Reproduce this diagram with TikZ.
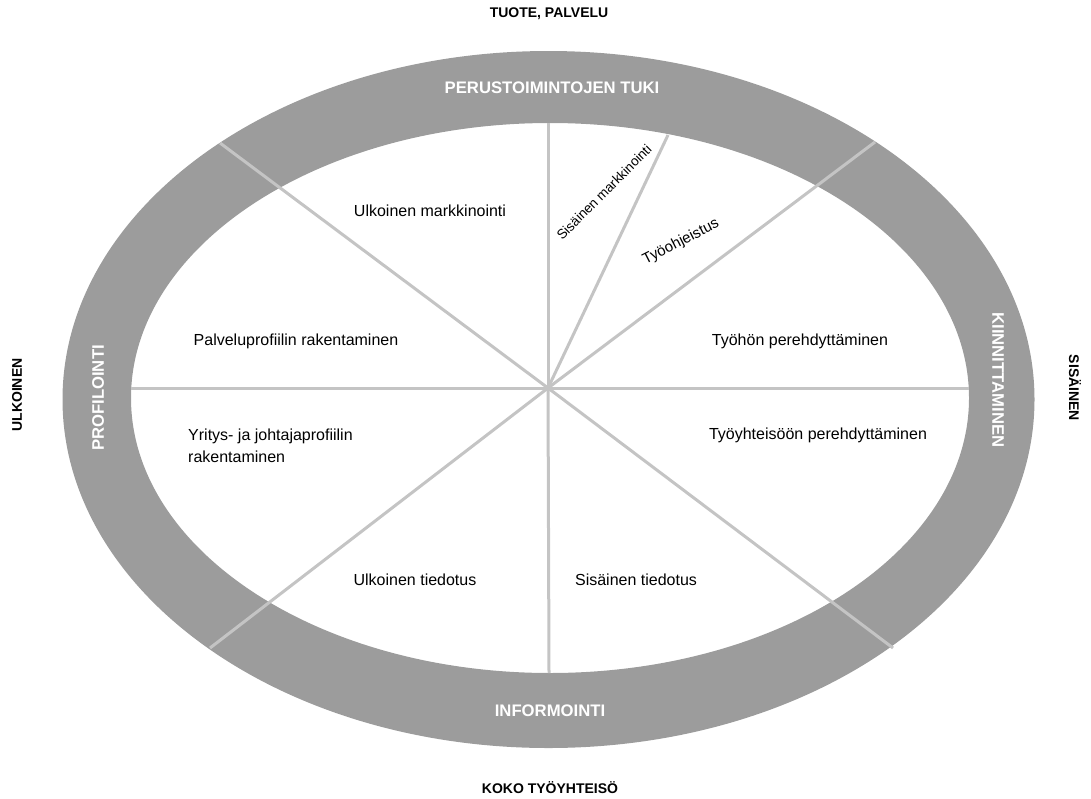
\documentclass[tikz,border=0pt]{standalone}
\usepackage{fontspec}
\setmainfont{Liberation Sans}
\definecolor{ringgray}{HTML}{9C9C9C}
\definecolor{divgray}{HTML}{C4C4C4}

\begin{document}
\begin{tikzpicture}[x=1pt,y=-1pt,
ring/.style={fill=ringgray,even odd rule},
divider/.style={draw=divgray,line width=3pt},
ringlabel/.style={text=white,inner sep=0pt,
	font=\fontsize{16.7}{19}\selectfont\bfseries},
sidelabel/.style={inner sep=0pt,
	font=\fontsize{14}{17}\selectfont\bfseries},
field/.style={inner sep=0pt,align=left,
	font=\fontsize{16}{22.5}\selectfont},
small/.style={inner sep=0pt,
	font=\fontsize{13.5}{15}\selectfont},
]
\useasboundingbox (0,0) rectangle (1091,798);
% the ring
\fill[ring] (548.5,399.5) ellipse [x radius=486,y radius=348.5]
	(550,398) ellipse [x radius=419,y radius=275];

% centre, inner and outer end points of the dividers
\coordinate (c) at (548,388);
\coordinate (top) at (548,123);
\coordinate (bottom) at (549,673);
\coordinate (left) at (131,388);
\coordinate (right) at (969,388);
\coordinate (sm) at (668,135);
\coordinate (ul) at (220,143);
\coordinate (ur) at (875,142);
\coordinate (ll) at (210,648);
\coordinate (lr) at (893,648);

\draw[divider] (c) -- (top);
\draw[divider] (c) -- (bottom);
\draw[divider] (c) -- (left);
\draw[divider] (c) -- (right);
\draw[divider] (c) -- (sm);
\draw[divider] (c) -- (ul);
\draw[divider] (c) -- (ur);
\draw[divider] (c) -- (ll);
\draw[divider] (c) -- (lr);

% ring labels
\node[ringlabel] (tuki) at (552,88) {PERUSTOIMINTOJEN TUKI};
\node[ringlabel] (info) at (550,711) {INFORMOINTI};
\node[ringlabel,rotate=90] (prof) at (98,398) {PROFILOINTI};
\node[ringlabel,rotate=-90] (kiin) at (998,380) {KIINNITTAMINEN};

% outer labels
\node[sidelabel] (tuote) at (549,14) {TUOTE, PALVELU};
\node[sidelabel] (koko) at (550,788) {KOKO TYÖYHTEISÖ};
\node[sidelabel,rotate=90] (ulk) at (17,395) {ULKOINEN};
\node[sidelabel,rotate=-90] (sis) at (1075,388) {SISÄINEN};

% fields
\node[field] (um) at (430,211) {Ulkoinen markkinointi};
\node[small,rotate=45] (sism) at (604,192) {Sisäinen markkinointi};
\node[small,rotate=27,font=\fontsize{15}{17}\selectfont] (tyoo) at (681,242) {Työohjeistus};
\node[field] (tp) at (800,341) {Työhön perehdyttäminen};
\node[field] (pr) at (296,341) {Palveluprofiilin rakentaminen};
\node[field,anchor=west] (yr) at (188,446) {Yritys- ja johtajaprofiilin\\rakentaminen};
\node[field] (typ) at (818,435) {Työyhteisöön perehdyttäminen};
\node[field] (ut) at (415,580) {Ulkoinen tiedotus};
\node[field] (st) at (636,580) {Sisäinen tiedotus};
\end{tikzpicture}
\end{document}
